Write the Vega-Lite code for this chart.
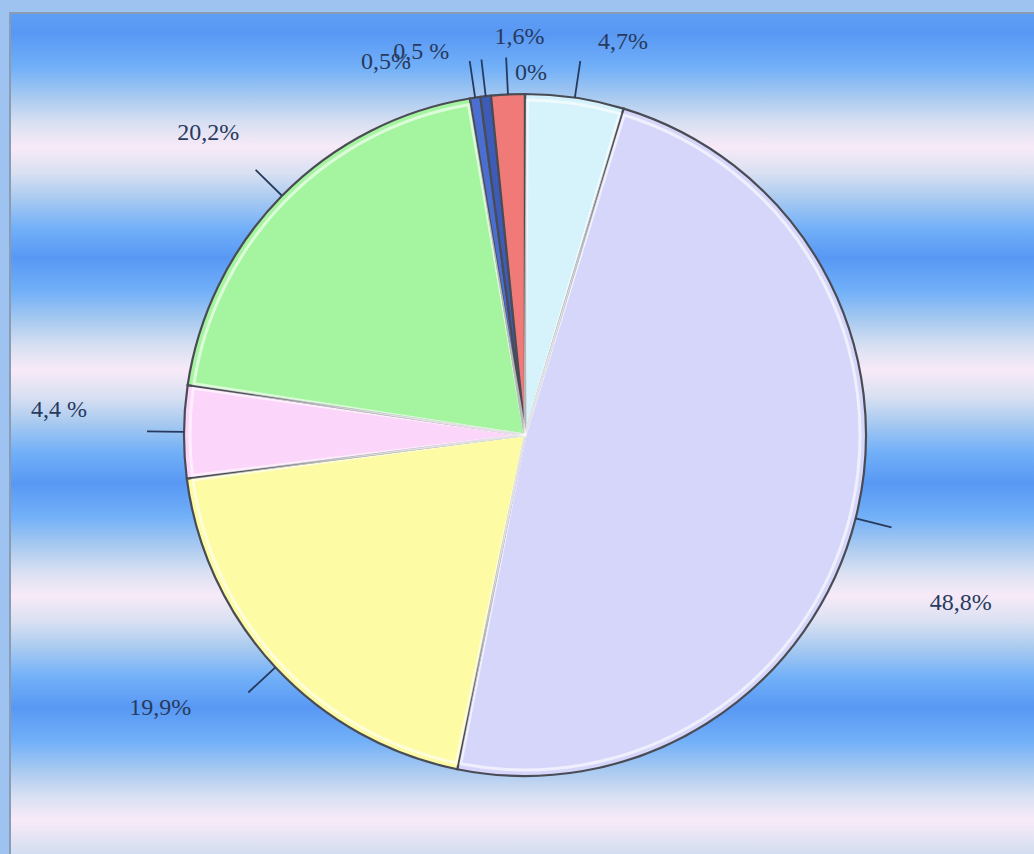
{
  "$schema": "https://vega.github.io/schema/vega-lite/v6.json",
  "width": 1030,
  "height": 844,
  "autosize": {"type": "none"},
  "padding": {"left": 10, "top": 13, "right": 0, "bottom": 0},
  "background": "#9ec3f0",
  "config": {
    "view": {"stroke": null},
    "text": {"font": "Liberation Serif", "fontSize": 24, "fill": "#283a5e"}
  },
  "datasets": {
    "shares": [
      {"idx": 1, "cat": "A", "value": 4.7, "label": "4,7%"},
      {"idx": 2, "cat": "B", "value": 48.8, "label": "48,8%"},
      {"idx": 3, "cat": "C", "value": 19.9, "label": "19,9%"},
      {"idx": 4, "cat": "D", "value": 4.4, "label": "4,4 %"},
      {"idx": 5, "cat": "E", "value": 20.2, "label": "20,2%"},
      {"idx": 6, "cat": "F", "value": 0.5, "label": "0,5%"},
      {"idx": 7, "cat": "G", "value": 0.5, "label": "0,5 %"},
      {"idx": 8, "cat": "H", "value": 1.6, "label": "1,6%"},
      {"idx": 9, "cat": "I", "value": 0, "label": "0%"}
    ],
    "frame": [{"name": "background"}]
  },
  "layer": [
    {
      "data": {"name": "frame"},
      "mark": {
        "type": "rect",
        "stroke": "#8a9cb4",
        "strokeWidth": 2,
        "fill": {
          "gradient": "linear", "x1": 0, "y1": 0, "x2": 0, "y2": 1,
          "stops": [
            {"offset": 0.0, "color": "#5f9ef5"},
            {"offset": 0.024, "color": "#5898f4"},
            {"offset": 0.065, "color": "#72b0f8"},
            {"offset": 0.1, "color": "#a9caf0"},
            {"offset": 0.13, "color": "#d8e0f2"},
            {"offset": 0.159, "color": "#f8eaf8"},
            {"offset": 0.19, "color": "#d8e0f2"},
            {"offset": 0.22, "color": "#a9caf0"},
            {"offset": 0.255, "color": "#72b0f8"},
            {"offset": 0.29, "color": "#5898f4"},
            {"offset": 0.33, "color": "#72b0f8"},
            {"offset": 0.365, "color": "#a9caf0"},
            {"offset": 0.395, "color": "#d8e0f2"},
            {"offset": 0.423, "color": "#f8eaf8"},
            {"offset": 0.455, "color": "#d8e0f2"},
            {"offset": 0.485, "color": "#a9caf0"},
            {"offset": 0.52, "color": "#72b0f8"},
            {"offset": 0.557, "color": "#5898f4"},
            {"offset": 0.597, "color": "#72b0f8"},
            {"offset": 0.632, "color": "#a9caf0"},
            {"offset": 0.662, "color": "#d8e0f2"},
            {"offset": 0.69, "color": "#f8eaf8"},
            {"offset": 0.722, "color": "#d8e0f2"},
            {"offset": 0.752, "color": "#a9caf0"},
            {"offset": 0.787, "color": "#72b0f8"},
            {"offset": 0.823, "color": "#5898f4"},
            {"offset": 0.863, "color": "#72b0f8"},
            {"offset": 0.898, "color": "#a9caf0"},
            {"offset": 0.928, "color": "#d8e0f2"},
            {"offset": 0.956, "color": "#f8eaf8"},
            {"offset": 0.99, "color": "#d8e0f2"},
            {"offset": 1.0, "color": "#d0dcf2"}
          ]
        }
      },
      "encoding": {}
    },
    {
      "data": {"name": "shares"},
      "encoding": {
        "theta": {"field": "value", "type": "quantitative", "stack": true},
        "order": {"field": "idx", "type": "quantitative"}
      },
      "layer": [
        {
          "mark": {"type": "arc", "radius": 341, "stroke": "#4a4c55", "strokeWidth": 2.2},
          "encoding": {
            "color": {
              "field": "cat", "type": "nominal", "legend": null,
              "scale": {
                "domain": ["A", "B", "C", "D", "E", "F", "G", "H", "I"],
                "range": ["#d6f3fb", "#d6d6fb", "#fdfba4", "#fcd5fa", "#a5f5a0", "#4a6fd0", "#3d5cb8", "#ef7a78", "#999999"]
              }
            }
          }
        },
        {
          "mark": {"type": "arc", "radius": 335, "filled": false, "stroke": "#ffffff", "strokeWidth": 3, "padAngle": 0.014},
          "encoding": {
            "strokeOpacity": {"condition": {"test": "datum.value < 2", "value": 0}, "value": 0.6}
          }
        },
        {
          "transform": [{"filter": "datum.value > 0"}],
          "mark": {"type": "arc", "radius": 378, "radius2": 341, "padAngle": 3.1416, "filled": false, "stroke": "#283a5e", "strokeWidth": 1.8}
        },
        {"mark": {"type": "text", "radius": 370, "dx": 44, "dy": -27}, "encoding": {"text": {"condition": {"test": "datum.idx == 1", "field": "label"}, "value": ""}}},
        {"mark": {"type": "text", "radius": 370, "dx": 77, "dy": 78}, "encoding": {"text": {"condition": {"test": "datum.idx == 2", "field": "label"}, "value": ""}}},
        {"mark": {"type": "text", "radius": 370, "dx": -94, "dy": 21}, "encoding": {"text": {"condition": {"test": "datum.idx == 3", "field": "label"}, "value": ""}}},
        {"mark": {"type": "text", "radius": 370, "dx": -96, "dy": -22}, "encoding": {"text": {"condition": {"test": "datum.idx == 4", "field": "label"}, "value": ""}}},
        {"mark": {"type": "text", "radius": 370, "dx": -53, "dy": -42}, "encoding": {"text": {"condition": {"test": "datum.idx == 5", "field": "label"}, "value": ""}}},
        {"mark": {"type": "text", "radius": 370, "dx": -85, "dy": -7}, "encoding": {"text": {"condition": {"test": "datum.idx == 6", "field": "label"}, "value": ""}}},
        {"mark": {"type": "text", "radius": 370, "dx": -61, "dy": -15}, "encoding": {"text": {"condition": {"test": "datum.idx == 7", "field": "label"}, "value": ""}}},
        {"mark": {"type": "text", "radius": 370, "dx": 13, "dy": -28}, "encoding": {"text": {"condition": {"test": "datum.idx == 8", "field": "label"}, "value": ""}}},
        {"mark": {"type": "text", "radius": 370, "dx": 6, "dy": 8}, "encoding": {"text": {"condition": {"test": "datum.idx == 9", "field": "label"}, "value": ""}}}
      ]
    }
  ]
}
